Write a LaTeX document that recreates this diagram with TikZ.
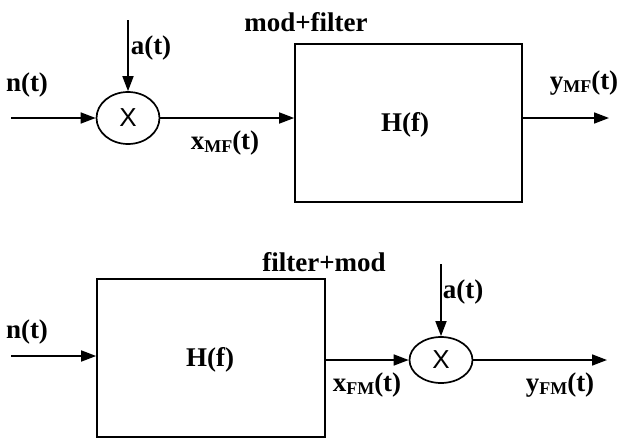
\documentclass[tikz,border=0pt]{standalone}
\usepackage{fontspec}
\setmainfont{Liberation Serif}
\newfontfamily\xsans{Liberation Sans}
\usetikzlibrary{arrows.meta,shapes.geometric}
\newcommand{\sbx}[1]{\raisebox{-0.25ex}{\fontsize{18}{20}\selectfont #1}}
\begin{document}
\begin{tikzpicture}[x=1pt,y=-1pt,
  lw/.style={line width=1.7pt},
  arr/.style={lw,-{Triangle[length=15pt,width=11pt]}},
  mult/.style={ellipse,draw,lw,minimum width=63pt,inner sep=0pt,font=\xsans\fontsize{26}{28}\selectfont},
  blk/.style={rectangle,draw,lw,inner sep=0pt},
  lbl/.style={font=\bfseries\fontsize{27}{30}\selectfont,inner sep=0pt}]
\useasboundingbox (0,0) rectangle (624,439);
% top row
\node[mult,minimum height=52pt] (m1) at (128,118) {X};
\node[blk,minimum width=227pt,minimum height=158pt] (b1) at (408.5,123) {};
\node[lbl] (h1) at (405,125) {H(f)};
\node[lbl] (t1) at (306,22) {mod+filter};
\coordinate (in1) at (11,118);
\coordinate (a1) at (128,20);
\coordinate (o1) at (609,118);
\draw[arr] (in1) -- (m1.west);
\draw[arr] (a1) -- (m1.north);
\draw[arr] (m1.east) -- (m1.east -| b1.west);
\draw[arr] (b1.east |- m1) -- (o1);
\node[lbl] (nt1) at (27,85) {n(t)};
\node[lbl] (at1) at (151,48) {a(t)};
\node[lbl] (x1) at (225,143) {x\sbx{MF}(t)};
\node[lbl] (y1) at (584,83) {y\sbx{MF}(t)};
% bottom row
\node[blk,minimum width=228pt,minimum height=158pt] (b2) at (211,358) {};
\node[lbl] (h2) at (210,360) {H(f)};
\node[lbl] (t2) at (324,262) {filter+mod};
\node[mult,minimum height=46pt] (m2) at (441,360) {X};
\coordinate (in2) at (11,356);
\coordinate (a2) at (441,264);
\coordinate (o2) at (607,360);
\draw[arr] (in2) -- (in2 -| b2.west);
\draw[arr] (b2.east |- m2) -- (m2.west);
\draw[arr] (a2) -- (m2.north);
\draw[arr] (m2.east) -- (o2);
\node[lbl] (nt2) at (27,332) {n(t)};
\node[lbl] (at2) at (463,292) {a(t)};
\node[lbl] (x2) at (367,385) {x\sbx{FM}(t)};
\node[lbl] (y2) at (560,385) {y\sbx{FM}(t)};
\end{tikzpicture}
\end{document}
